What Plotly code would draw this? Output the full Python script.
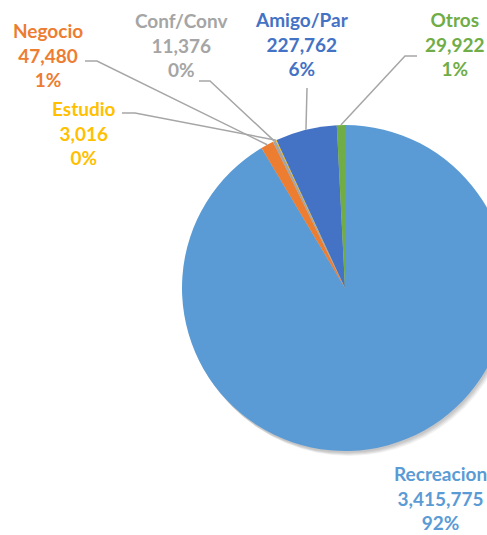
import math
import plotly.graph_objects as go

# ---- data ----
categories = ["Recreacion", "Negocio", "Conf/Conv", "Estudio", "Amigo/Par", "Otros"]
values = [3415775, 47480, 11376, 3016, 227762, 29922]
pct_labels = ["92%", "1%", "0%", "0%", "6%", "1%"]
colors = ["#5B9BD5", "#ED7D31", "#A5A5A5", "#FFC000", "#4472C4", "#70AD47"]

# ---- layout (pixels) ----
W, H = 516, 535
CX, CY, R = 345, 288, 163
label_pos = {
    "Recreacion": (440, 498),
    "Negocio": (48, 55),
    "Conf/Conv": (181, 45),
    "Estudio": (84, 133),
    "Amigo/Par": (302, 44),
    "Otros": (455, 44),
}
leader_start = {
    "Negocio": [(85, 61), (97, 61)],
    "Conf/Conv": [(199, 81), (210, 81)],
    "Estudio": [(122, 113), (135, 113)],
    "Amigo/Par": [(307, 88)],
    "Otros": [(417, 56), (405, 56)],
}

def px(x):
    return x / W

def py(y):
    return 1 - y / H

fig = go.Figure()

# soft drop shadow behind the pie
for dx, dy, a in [(4, 5, 0.05), (3, 4, 0.06), (2, 3, 0.07), (1, 2, 0.06)]:
    fig.add_trace(go.Pie(
        values=[sum(values)], sort=False, textinfo="none", hoverinfo="skip",
        marker=dict(colors=[f"rgba(0,0,0,{a})"], line=dict(width=0)),
        domain=dict(x=[px(CX - R + dx), px(CX + R + dx)],
                    y=[py(CY + R + dy), py(CY - R + dy)]),
        showlegend=False,
    ))

fig.add_trace(go.Pie(
    labels=categories, values=values, sort=False, direction="clockwise",
    rotation=0, textinfo="none", hoverinfo="label+value+percent",
    marker=dict(colors=colors, line=dict(width=0)),
    domain=dict(x=[px(CX - R), px(CX + R)], y=[py(CY + R), py(CY - R)]),
    showlegend=False,
))

total = sum(values)
cum = 0
anchors = {}
for c, v in zip(categories, values):
    mid = (cum + v / 2) / total * 2 * math.pi
    anchors[c] = (CX + R * math.sin(mid), CY - R * math.cos(mid))
    cum += v

shapes = []
for c, pts in leader_start.items():
    allpts = pts + [anchors[c]]
    path = "M " + " L ".join(f"{px(x):.5f},{py(y):.5f}" for x, y in allpts)
    shapes.append(dict(type="path", path=path, xref="paper", yref="paper",
                       line=dict(color="#A6A6A6", width=1.5)))

annotations = []
for c, v, p, col in zip(categories, values, pct_labels, colors):
    x, y = label_pos[c]
    annotations.append(dict(
        x=px(x), y=py(y), xref="paper", yref="paper",
        xanchor="center", yanchor="middle", align="center", showarrow=False,
        text=f"<b>{c}<br>{v:,}<br>{p}</b>",
        font=dict(family="Lato", size=19, color=col),
    ))

fig.update_layout(
    width=W, height=H, margin=dict(l=0, r=0, t=0, b=0),
    paper_bgcolor="white", plot_bgcolor="white",
    shapes=shapes, annotations=annotations,
)

fig.write_html("out.html", config={"displayModeBar": False},
               post_script="document.body.style.margin='0';document.body.style.overflow='hidden';")
